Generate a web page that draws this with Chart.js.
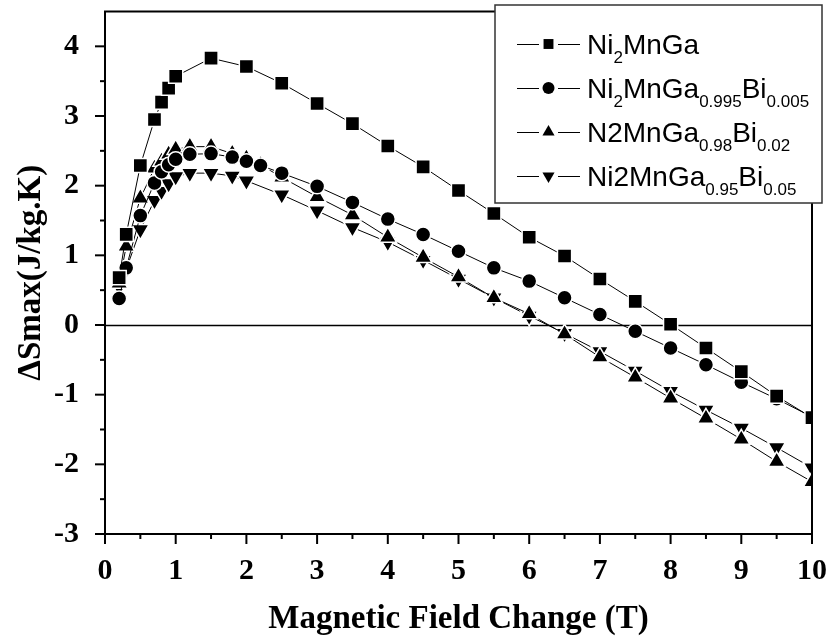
<!DOCTYPE html>
<html>
<head>
<meta charset="utf-8">
<script src="https://cdn.jsdelivr.net/npm/chart.js@4/dist/chart.umd.min.js"></script>
<style>
  html, body { margin: 0; padding: 0; background: #fff; }
  #c { display: block; }
</style>
</head>
<body>
<canvas id="c" width="833" height="641"></canvas>
<script>
// Field change (T) and peak entropy change (J/kg.K) for each composition
const fieldPure = [0.2, 0.3, 0.5, 0.7, 0.8, 0.9, 1.0, 1.5, 2.0, 2.5, 3.0, 3.5, 4.0, 4.5, 5.0, 5.5, 6.0, 6.5, 7.0, 7.5, 8.0, 8.5, 9.0, 9.5, 10];
const dsPure = [0.68, 1.30, 2.29, 2.95, 3.20, 3.40, 3.57, 3.83, 3.71, 3.47, 3.18, 2.89, 2.57, 2.27, 1.93, 1.60, 1.26, 0.99, 0.66, 0.34, 0.01, -0.33, -0.67, -1.02, -1.33];

const fieldBi = [0.2, 0.3, 0.5, 0.7, 0.8, 0.9, 1.0, 1.2, 1.5, 1.8, 2.0, 2.2, 2.5, 3.0, 3.5, 4.0, 4.5, 5.0, 5.5, 6.0, 6.5, 7.0, 7.5, 8.0, 8.5, 9.0, 9.5, 10];
const dsBi005 = [0.38, 0.82, 1.57, 2.04, 2.20, 2.30, 2.38, 2.45, 2.46, 2.41, 2.35, 2.29, 2.18, 1.99, 1.76, 1.52, 1.30, 1.06, 0.82, 0.63, 0.39, 0.15, -0.09, -0.33, -0.57, -0.82, -1.06, -1.32];
const dsBi02 = [0.60, 1.13, 1.82, 2.25, 2.35, 2.45, 2.52, 2.56, 2.56, 2.46, 2.39, 2.30, 2.12, 1.84, 1.58, 1.26, 0.97, 0.69, 0.39, 0.16, -0.13, -0.46, -0.75, -1.05, -1.34, -1.64, -1.96, -2.25];

const fieldBi05 = [0.2, 0.3, 0.5, 0.7, 0.8, 0.9, 1.0, 1.2, 1.5, 1.8, 2.0, 2.5, 3.0, 3.5, 4.0, 4.5, 5.0, 5.5, 6.0, 6.5, 7.0, 7.5, 8.0, 8.5, 9.0, 9.5, 10];
const dsBi05 = [0.55, 0.80, 1.37, 1.79, 1.92, 2.03, 2.13, 2.18, 2.18, 2.14, 2.07, 1.87, 1.64, 1.40, 1.19, 0.93, 0.66, 0.39, 0.13, -0.12, -0.38, -0.66, -0.95, -1.22, -1.48, -1.76, -2.05];

// Legend labels: [text, isSubscript]
const legendLabels = [
  [['Ni', 0], ['2', 1], ['MnGa', 0]],
  [['Ni', 0], ['2', 1], ['MnGa', 0], ['0.995', 1], ['Bi', 0], ['0.005', 1]],
  [['N2MnGa', 0], ['0.98', 1], ['Bi', 0], ['0.02', 1]],
  [['Ni2MnGa', 0], ['0.95', 1], ['Bi', 0], ['0.05', 1]]
];

const xTitle = 'Magnetic Field Change (T)';
const yTitle = '\u0394Smax(J/kg.K)';

const SERIF = '"Liberation Serif", "Times New Roman", serif';
const SANS = '"Liberation Sans", Arial, sans-serif';

function pts(xs, ys) { return xs.map((x, i) => ({ x: x, y: ys[i] })); }

const markerStyles = [
  { pointStyle: 'rect', radius: 10, rotation: 0 },
  { pointStyle: 'circle', radius: 7.5, rotation: 0 },
  { pointStyle: 'triangle', radius: 10, rotation: 0 },
  { pointStyle: 'triangle', radius: 10, rotation: 180 }
];

function series(data, m) {
  return {
    data: data,
    borderColor: '#000',
    borderWidth: 1,
    backgroundColor: '#000',
    pointStyle: m.pointStyle,
    pointRotation: m.rotation,
    pointRadius: m.radius,
    pointHoverRadius: m.radius,
    pointBackgroundColor: '#000',
    pointBorderColor: '#fff',
    pointBorderWidth: 1.5,
    tension: 0,
    fill: false
  };
}

// Frame, zero line, outward major/minor ticks
const framePlugin = {
  id: 'frame',
  beforeDatasetsDraw(chart) {
    const { ctx, chartArea: a, scales: { y } } = chart;
    ctx.save();
    ctx.strokeStyle = '#000';
    ctx.lineWidth = 1.5;
    const y0 = Math.round(y.getPixelForValue(0)) + 0.5;
    ctx.beginPath();
    ctx.moveTo(a.left, y0);
    ctx.lineTo(a.right, y0);
    ctx.stroke();
    ctx.restore();
  },
  afterDatasetsDraw(chart) {
    const { ctx, chartArea: a, scales: { x, y } } = chart;
    ctx.save();
    ctx.strokeStyle = '#000';
    ctx.lineWidth = 2;
    ctx.strokeRect(a.left, a.top, a.right - a.left, a.bottom - a.top);
    for (let v = 0; v <= 10.001; v += 0.5) {
      const px = x.getPixelForValue(v);
      const major = Math.abs(v - Math.round(v)) < 1e-6;
      ctx.beginPath();
      ctx.moveTo(px, a.bottom);
      ctx.lineTo(px, a.bottom + (major ? 10 : 5));
      ctx.stroke();
    }
    for (let v = -3; v <= 4.001; v += 0.5) {
      const py = y.getPixelForValue(v);
      const major = Math.abs(v - Math.round(v)) < 1e-6;
      ctx.beginPath();
      ctx.moveTo(a.left, py);
      ctx.lineTo(a.left - (major ? 10 : 5), py);
      ctx.stroke();
    }
    ctx.restore();
  }
};

// Boxed legend with subscripted formulas
const legendPlugin = {
  id: 'formulaLegend',
  afterDraw(chart) {
    const { ctx } = chart;
    const box = { x: 495, y: 5, w: 327, h: 198 };
    ctx.save();
    ctx.fillStyle = '#fff';
    ctx.fillRect(box.x, box.y, box.w, box.h);
    ctx.strokeStyle = '#333';
    ctx.lineWidth = 1.5;
    ctx.strokeRect(box.x, box.y, box.w, box.h);

    const rowY = [44, 88, 132, 176];
    const legendMarkers = [
      { pointStyle: 'rect', radius: 7, rotation: 0 },
      { pointStyle: 'circle', radius: 6, rotation: 0 },
      { pointStyle: 'triangle', radius: 7, rotation: 0 },
      { pointStyle: 'triangle', radius: 7, rotation: 180 }
    ];
    legendLabels.forEach((parts, i) => {
      const cy = rowY[i];
      ctx.strokeStyle = '#000';
      ctx.lineWidth = 1;
      ctx.beginPath();
      ctx.moveTo(517, cy + 0.5); ctx.lineTo(539, cy + 0.5);
      ctx.moveTo(558, cy + 0.5); ctx.lineTo(580, cy + 0.5);
      ctx.stroke();
      ctx.fillStyle = '#000';
      ctx.strokeStyle = '#000';
      Chart.helpers.drawPoint(ctx, Object.assign({ borderWidth: 0 }, legendMarkers[i]), 548.5, cy);

      let tx = 587;
      const base = cy + 10;
      ctx.textBaseline = 'alphabetic';
      ctx.textAlign = 'left';
      parts.forEach(([t, sub]) => {
        ctx.font = sub ? '17px ' + SANS : '28px ' + SANS;
        ctx.fillText(t, tx, sub ? base + 9 : base);
        tx += ctx.measureText(t).width;
      });
    });
    ctx.restore();
  }
};

new Chart(document.getElementById('c'), {
  type: 'line',
  data: {
    datasets: [
      series(pts(fieldPure, dsPure), markerStyles[0]),
      series(pts(fieldBi, dsBi005), markerStyles[1]),
      series(pts(fieldBi, dsBi02), markerStyles[2]),
      series(pts(fieldBi05, dsBi05), markerStyles[3])
    ]
  },
  options: {
    responsive: false,
    animation: false,
    events: [],
    layout: { padding: { top: 10, right: 21, left: 0, bottom: 0 } },
    plugins: { legend: { display: false }, tooltip: { enabled: false } },
    scales: {
      x: {
        type: 'linear',
        min: 0, max: 10,
        grid: { display: false },
        border: { display: false },
        afterFit(s) { s.height = 107; s.paddingLeft = 0; s.paddingRight = 0; },
        ticks: {
          stepSize: 0.5,
          autoSkip: false,
          maxRotation: 0,
          padding: 11,
          color: '#000',
          font: { family: SERIF, size: 30, weight: 'bold' },
          callback: v => Number.isInteger(v) ? String(v) : ''
        },
        title: {
          display: true,
          text: xTitle,
          color: '#000',
          font: { family: SERIF, size: 33, weight: 'bold' },
          padding: { top: 0, bottom: 2 }
        }
      },
      y: {
        type: 'linear',
        min: -3, max: 4.5,
        grid: { display: false },
        border: { display: false },
        afterFit(s) { s.width = 105; s.paddingTop = 0; s.paddingBottom = 0; },
        ticks: {
          stepSize: 0.5,
          autoSkip: false,
          padding: 18,
          color: '#000',
          font: { family: SERIF, size: 30, weight: 'bold' },
          callback: v => Number.isInteger(v) ? String(v) : ''
        },
        title: {
          display: true,
          text: yTitle,
          color: '#000',
          font: { family: SERIF, size: 33, weight: 'bold' },
          padding: { top: 12, bottom: 0 }
        }
      }
    }
  },
  plugins: [framePlugin, legendPlugin]
});
</script>
</body>
</html>
